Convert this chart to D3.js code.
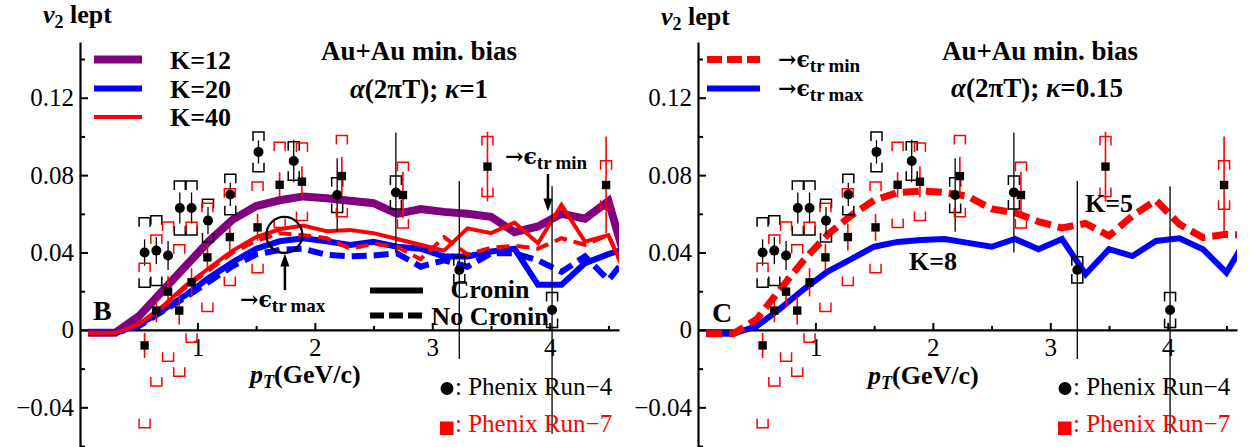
<!DOCTYPE html>
<meta charset="utf-8">
<style>
body { margin: 0; background: #fff; }
text { font-family: "Liberation Serif", "Times New Roman", serif; fill: #000; }
</style>
<svg width="1251" height="447"></svg>
<script src="https://d3js.org/d3.v7.min.js"></script>
<script>

// pT grid of the model curves (GeV/c)
var pt = [0.07, 0.3, 0.5, 0.7, 0.9, 1.1, 1.3, 1.5, 1.7, 1.9, 2.1, 2.3, 2.5, 2.7, 2.9, 3.1, 3.3, 3.5, 3.7, 3.9, 4.1, 4.3, 4.5, 4.7];

// panel B : alpha(2 pi T), kappa = 1
var k12 = [-0.0015, -0.0015, 0.007, 0.020, 0.033, 0.046, 0.057, 0.064, 0.067, 0.069, 0.068, 0.0668, 0.0655, 0.060, 0.0625, 0.061, 0.060, 0.0585, 0.0505, 0.0535, 0.060, 0.0575, 0.0665, 0.025];
var k20 = [-0.0015, -0.0015, 0.0025, 0.010, 0.018, 0.027, 0.035, 0.042, 0.0458, 0.0474, 0.0458, 0.0439, 0.0456, 0.043, 0.042, 0.038, 0.038, 0.0405, 0.042, 0.0233, 0.0233, 0.0345, 0.0392, 0.043];
var k20noCronin = [-0.0015, -0.0015, 0.002, 0.0095, 0.017, 0.025, 0.033, 0.039, 0.0413, 0.042, 0.0388, 0.038, 0.0385, 0.0396, 0.0327, 0.036, 0.0327, 0.0396, 0.0396, 0.036, 0.030, 0.038, 0.0258, 0.0407];
var k40 = [-0.0015, -0.0015, 0.003, 0.012, 0.023, 0.032, 0.041, 0.048, 0.052, 0.054, 0.051, 0.0517, 0.050, 0.047, 0.044, 0.041, 0.0525, 0.050, 0.0555, 0.0448, 0.0646, 0.0456, 0.049, 0.022];
var k40noCronin = [-0.0015, -0.0015, 0.003, 0.0115, 0.022, 0.031, 0.040, 0.046, 0.050, 0.049, 0.0474, 0.042, 0.0445, 0.043, 0.0365, 0.048, 0.039, 0.0425, 0.0435, 0.042, 0.0474, 0.044, 0.049, 0.021];

// panel C : alpha(2 pi T), kappa = 0.15
var trMinK5 = [-0.002, -0.002, 0.0055, 0.021, 0.036, 0.049, 0.059, 0.067, 0.071, 0.0718, 0.071, 0.069, 0.0625, 0.0606, 0.056, 0.0527, 0.055, 0.0486, 0.059, 0.067, 0.0546, 0.0477, 0.0494, 0.049];
var trMaxK8 = [-0.002, -0.002, 0.002, 0.011, 0.021, 0.030, 0.0365, 0.043, 0.0455, 0.0465, 0.047, 0.045, 0.043, 0.047, 0.0417, 0.047, 0.0288, 0.0417, 0.0382, 0.046, 0.0474, 0.0417, 0.0296, 0.050];

// PHENIX Run-4
var run4Pt = [0.55, 0.65, 0.75, 0.85, 0.95, 1.09, 1.28, 1.52, 1.82, 2.19, 2.69, 3.23, 4.02];
var run4V2 = [0.040, 0.041, 0.0385, 0.063, 0.063, 0.0565, 0.070, 0.092, 0.0873, 0.0697, 0.071, 0.031, 0.0103];
var run4Stat = [0.0068, 0.007, 0.0075, 0.008, 0.008, 0.007, 0.006, 0.006, 0.011, 0.019, 0.031, 0.046, 0.064];
var run4Sys = [0.018, 0.018, 0, 0.014, 0.014, 0.011, 0.0105, 0.0103, 0.010, 0.009, 0.0085, 0.0068, 0.009];

// PHENIX Run-7
var run7Pt = [0.55, 0.65, 0.75, 0.845, 0.95, 1.085, 1.276, 1.512, 1.70, 1.89, 2.23, 2.75, 3.47, 4.48];
var run7V2 = [-0.008, 0.010, 0.0198, 0.010, 0.0246, 0.0375, 0.048, 0.053, 0.075, 0.0766, 0.0795, 0.0697, 0.0844, 0.0749];
var run7Stat = [0.0065, 0.006, 0.008, 0.0073, 0.0073, 0.007, 0.007, 0.007, 0.0065, 0.008, 0.010, 0.012, 0.018, 0.025];
var run7Sys = [0.0425, 0.039, 0.036, 0.034, 0.031, 0.028, 0.025, 0.0235, 0.022, 0.020, 0.021, 0.017, 0.0155, 0.0125];

var xMajor = [1, 2, 3, 4], xMinor = [0.5, 1.5, 2.5, 3.5, 4.5];
var yMajor = [-0.04, 0, 0.04, 0.08, 0.12], yMinor = [-0.06, -0.02, 0.02, 0.06, 0.10, 0.14];

var svg = d3.select("svg");
var y = d3.scaleLinear().domain([-0.0605, 0.1488]).range([447, 42]);
var fmt = function(d) { return d === 0 ? "0" : d3.format(".2f")(d); };

function txt(g, xp, yp, parts, opts) {
  opts = opts || {};
  var t = g.append("text").attr("x", xp).attr("y", yp)
    .attr("font-size", opts.size || 26)
    .attr("font-weight", opts.weight || "bold")
    .attr("text-anchor", opts.anchor || "start");
  if (opts.fill) t.style("fill", opts.fill);
  parts.forEach(function(p) {
    var s = t.append("tspan").text(p[0]);
    var a = p[1] || {};
    Object.keys(a).forEach(function(k) {
      if (k === "family") s.style("font-family", a[k]); else s.attr(k, a[k]);
    });
  });
  return t;
}

// "→ϵ" followed by a bold subscript
function eps(g, xp, yp, sub) {
  return txt(g, xp, yp, [["\u2192\u03f5", { family: "DejaVu Serif", "font-size": 22 }], [sub, { "font-size": 19, dy: 5 }]], { size: 25 });
}

function panel(x0, id) {
  var x = d3.scaleLinear().domain([0, 4.59]).range([x0, x0 + 539]);
  var g = svg.append("g");

  // axes
  var ya = g.append("g").attr("transform", "translate(" + x(0) + ",0)");
  ya.call(d3.axisLeft(y).tickValues(yMajor).tickSize(-8).tickSizeOuter(0).tickPadding(6).tickFormat(fmt));
  ya.append("g").call(d3.axisLeft(y).tickValues(yMinor).tickSize(-5).tickFormat(""))
    .select(".domain").remove();
  var xa = g.append("g").attr("transform", "translate(0," + y(0) + ")");
  xa.call(d3.axisBottom(x).tickValues(xMajor).tickSize(-7).tickSizeOuter(0).tickPadding(8).tickFormat(d3.format("d")));
  xa.append("g").call(d3.axisBottom(x).tickValues(xMinor).tickSize(-4).tickFormat(""))
    .select(".domain").remove();
  g.selectAll(".domain").attr("stroke-width", 2.2);
  g.selectAll(".tick line").attr("stroke-width", 2);
  g.selectAll(".tick text").attr("font-size", 25).style("font-family", "Liberation Serif");

  g.append("clipPath").attr("id", "clip" + id)
    .append("rect").attr("x", x0).attr("y", 0).attr("width", 539).attr("height", 447);
  return { g: g, x: x, curves: g.append("g").attr("clip-path", "url(#clip" + id + ")") };
}

function curve(p, vals, color, width, dash) {
  var line = d3.line().x(function(d, i) { return p.x(pt[i]); }).y(function(d) { return y(d); });
  p.curves.append("path").datum(vals).attr("d", line)
    .attr("fill", "none").attr("stroke", color).attr("stroke-width", width)
    .attr("stroke-linejoin", "miter").attr("stroke-dasharray", dash || null);
}

function points(p, xs, vs, stat, sys, color, square) {
  var g = p.g.append("g");
  var leg = 9, hw = 5.5;
  xs.forEach(function(px, i) {
    var X = p.x(px);
    g.append("line").attr("x1", X).attr("x2", X)
      .attr("y1", y(vs[i] + stat[i])).attr("y2", y(vs[i] - stat[i]))
      .attr("stroke", color).attr("stroke-width", square ? 1.6 : 1.3);
    if (sys[i] > 0) {
      var t = y(vs[i] + sys[i]), b = y(vs[i] - sys[i]);
      g.append("path").attr("d", "M" + (X - hw) + "," + (t + leg) + "V" + t + "H" + (X + hw) + "V" + (t + leg))
        .attr("fill", "none").attr("stroke", color).attr("stroke-width", 1.5);
      g.append("path").attr("d", "M" + (X - hw) + "," + (b - leg) + "V" + b + "H" + (X + hw) + "V" + (b - leg))
        .attr("fill", "none").attr("stroke", color).attr("stroke-width", 1.5);
    }
  });
  xs.forEach(function(px, i) {
    var X = p.x(px), Y = y(vs[i]);
    if (square) g.append("rect").attr("x", X - 4.2).attr("y", Y - 4.2).attr("width", 8.4).attr("height", 8.4).attr("fill", "#000");
    else g.append("circle").attr("cx", X).attr("cy", Y).attr("r", 5).attr("fill", "#000");
  });
}

function arrow(g, X, Y1, Y2) {
  var dir = Y2 > Y1 ? 1 : -1;
  g.append("line").attr("x1", X).attr("x2", X).attr("y1", Y1).attr("y2", Y2 - dir * 10)
    .attr("stroke", "#000").attr("stroke-width", 2.5);
  g.append("path").attr("d", "M" + (X - 4.5) + "," + (Y2 - dir * 13) + "L" + X + "," + Y2 + "L" + (X + 4.5) + "," + (Y2 - dir * 13) + "Z")
    .attr("fill", "#000");
}

function common(p, x0, vY, xtY) {
  var g = p.g;
  txt(g, x0 - 37, vY, [["v", { "font-style": "italic" }], ["2", { "font-size": 18, dy: 5 }], [" lept", { dy: -5 }]], { size: 26 });
  txt(g, x0 + 170, xtY, [["p", { "font-style": "italic" }], ["T", { "font-size": 18, dy: 5, "font-style": "italic" }], ["(GeV/c)", { dy: -5 }]], { size: 26 });
  // data legend
  g.append("circle").attr("cx", x0 + 367).attr("cy", 388.5).attr("r", 6.5).attr("fill", "#000");
  txt(g, x0 + 375, 395, [[": Phenix Run\u22124"]], { size: 25, weight: "normal" });
  g.append("rect").attr("x", x0 + 360).attr("y", 421.5).attr("width", 13.5).attr("height", 13.5).attr("fill", "#f00");
  txt(g, x0 + 375, 431.5, [[": Phenix Run\u22127"]], { size: 25, weight: "normal", fill: "#f00" });
}

// ---------- panel B ----------
var B = panel(80, "B");
curve(B, k12, "#800080", 8);
curve(B, k20noCronin, "#0000ff", 6, "15,7");
curve(B, k20, "#0000ff", 6);
curve(B, k40noCronin, "#ff0000", 4, "13,7");
curve(B, k40, "#ff0000", 4);
points(B, run4Pt, run4V2, run4Stat, run4Sys, "#000", false);
points(B, run7Pt, run7V2, run7Stat, run7Sys, "#f00", true);
common(B, 80, 23, 383);

[["K=12", "#800080", 8, 59.5], ["K=20", "#0000ff", 6, 88.5], ["K=40", "#ff0000", 4, 117]].forEach(function(d) {
  B.g.append("line").attr("x1", 94).attr("x2", 142).attr("y1", d[3]).attr("y2", d[3])
    .attr("stroke", d[1]).attr("stroke-width", d[2]);
  txt(B.g, 170, d[3] + 9, [[d[0]]], { size: 26 });
});
txt(B.g, 419, 60, [["Au+Au min. bias"]], { size: 27, anchor: "middle" });
txt(B.g, 419, 98, [["\u03b1", { "font-style": "italic" }], ["(2\u03c0T); "], ["\u03ba", { "font-style": "italic" }], ["=1"]], { size: 27, anchor: "middle" });
txt(B.g, 93, 320, [["B"]], { size: 28 });

B.g.append("circle").attr("cx", B.x(1.74)).attr("cy", y(0.0491)).attr("r", 18)
  .attr("fill", "none").attr("stroke", "#000").attr("stroke-width", 2.2);
arrow(B.g, B.x(1.745), y(0.0206), y(0.0395));
eps(B.g, 240, 307, "tr\u2009max");
arrow(B.g, B.x(3.985), y(0.0806), y(0.0612));
eps(B.g, 505, 164, "tr\u2009min");

B.g.append("line").attr("x1", 370).attr("x2", 423).attr("y1", 290.5).attr("y2", 290.5)
  .attr("stroke", "#000").attr("stroke-width", 6);
B.g.append("line").attr("x1", 370).attr("x2", 423).attr("y1", 315.5).attr("y2", 315.5)
  .attr("stroke", "#000").attr("stroke-width", 6).attr("stroke-dasharray", "14,5");
txt(B.g, 490, 298, [["Cronin"]], { size: 26, anchor: "middle" });
txt(B.g, 490, 325, [["No Cronin"]], { size: 26, anchor: "middle" });

// ---------- panel C ----------
var C = panel(698, "C");
curve(C, trMaxK8, "#0000ff", 6);
curve(C, trMinK5, "#ff0000", 7, "16,7");
points(C, run4Pt, run4V2, run4Stat, run4Sys, "#000", false);
points(C, run7Pt, run7V2, run7Stat, run7Sys, "#f00", true);
common(C, 698, 25, 384);

C.g.append("line").attr("x1", 707).attr("x2", 760).attr("y1", 59.5).attr("y2", 59.5)
  .attr("stroke", "#ff0000").attr("stroke-width", 7).attr("stroke-dasharray", "15,5");
C.g.append("line").attr("x1", 707).attr("x2", 760).attr("y1", 88.5).attr("y2", 88.5)
  .attr("stroke", "#0000ff").attr("stroke-width", 6);
eps(C.g, 778, 67, "tr\u2009min");
eps(C.g, 778, 96, "tr\u2009max");
txt(C.g, 1040, 60, [["Au+Au min. bias"]], { size: 27, anchor: "middle" });
txt(C.g, 1037, 97, [["\u03b1", { "font-style": "italic" }], ["(2\u03c0T); "], ["\u03ba", { "font-style": "italic" }], ["=0.15"]], { size: 27, anchor: "middle" });
txt(C.g, 712, 322, [["C"]], { size: 28 });
txt(C.g, 1109, 212, [["K=5"]], { size: 26, anchor: "middle" });
txt(C.g, 933, 270, [["K=8"]], { size: 26, anchor: "middle" });
</script>
